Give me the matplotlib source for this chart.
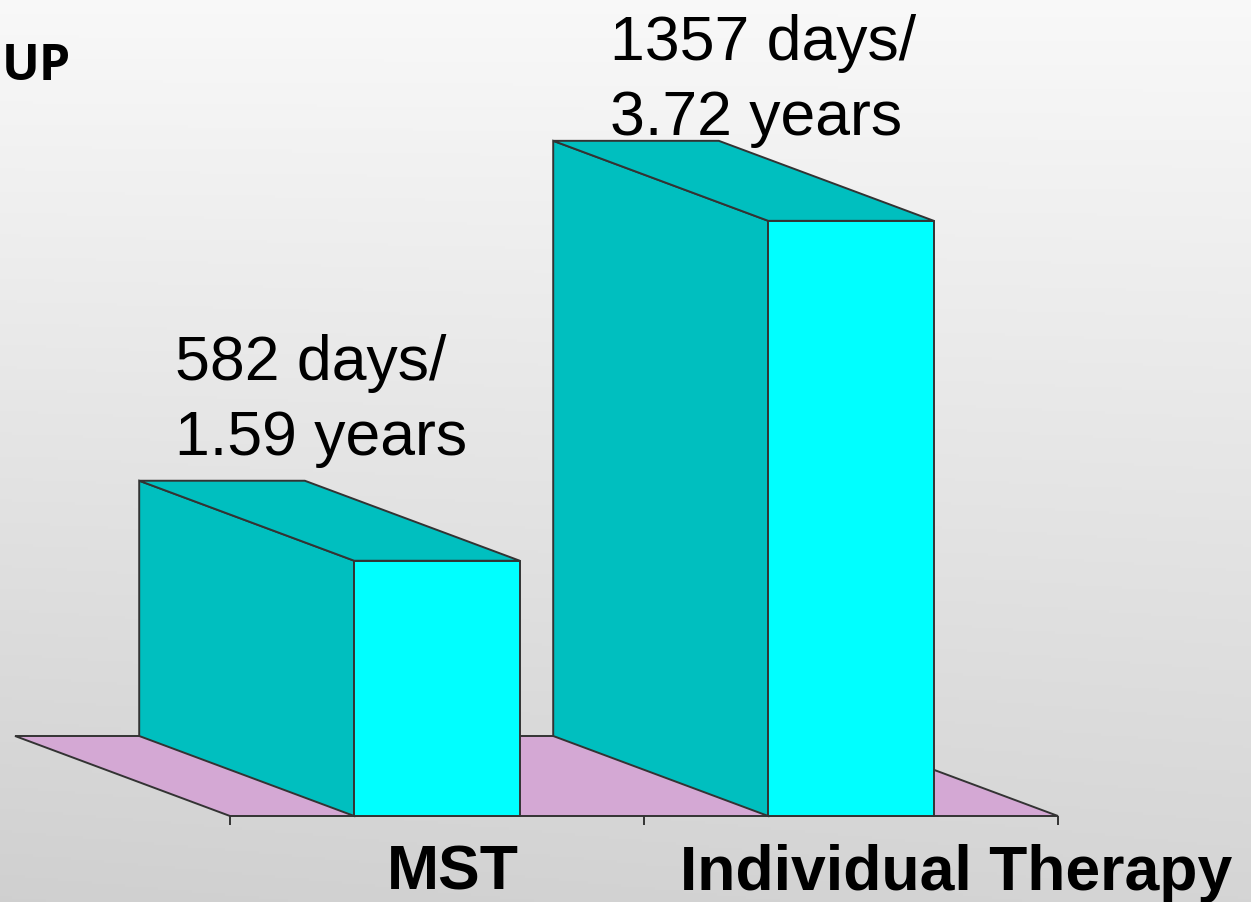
import numpy as np
import matplotlib
matplotlib.use("Agg")
import matplotlib.pyplot as plt
from matplotlib.patches import Polygon

# ---- data ----
categories = ["MST", "Individual Therapy"]
days = [582, 1357]
years = [1.59, 3.72]
title_fragment = "UP"

# ---- style / layout ----
W, H, DPI = 1251, 903, 100
side_color = "#00BFBF"
front_color = "#00FFFF"
floor_color = "#D4A8D4"
edge_color = "#333333"
lw = 1.4
bar_width = 0.4
depth_dx = -0.5193   # depth offset in category units
depth_dy = 182.4     # depth offset in value units
label_offsets_px = [(36, 102), (57, 82)]   # from back-top-left corner to first-line baseline
line_gap_px = 75
cat_label_shift = [0.039, 0.254]

fig = plt.figure(figsize=(W / DPI, H / DPI), dpi=DPI)

# background gradient
bg = fig.add_axes([0, 0, 1, 1])
yy, xx = np.mgrid[0:1:300j, 0:1:300j]
g = 0.975 - 0.14 * yy - 0.02 * (1 - xx) * yy
img = np.dstack([g, g, g])
bg.imshow(img, extent=[0, 1, 0, 1], aspect="auto", origin="upper")
bg.axis("off")

# main axes: front plane
left_px, right_px, base_px = 230, 1058, 817
scale = 2.28  # value units per pixel
top_px = 1
ax = fig.add_axes([left_px / W, (H - base_px) / H, (right_px - left_px) / W, (base_px - top_px) / H])
ax.set_xlim(0, len(categories))
ax.set_ylim(0, (base_px - top_px) * scale)
ax.patch.set_alpha(0)
for s in ax.spines.values():
    s.set_visible(False)
ax.set_yticks([])
ax.set_xticks(range(len(categories) + 1))
ax.set_xticklabels([])
ax.tick_params(axis="x", direction="out", length=6.5, width=lw, color=edge_color)

n = len(categories)
# floor
floor = Polygon([(0, 0), (n, 0), (n + depth_dx, depth_dy), (depth_dx, depth_dy)],
                closed=True, facecolor=floor_color, edgecolor=edge_color, linewidth=lw,
                zorder=1, clip_on=False)
ax.add_patch(floor)

for i, v in enumerate(days):
    c = i + 0.5
    x0, x1 = c - bar_width / 2, c + bar_width / 2
    side = Polygon([(x0, 0), (x0, v), (x0 + depth_dx, v + depth_dy), (x0 + depth_dx, depth_dy)],
                   closed=True, facecolor=side_color, edgecolor=edge_color, linewidth=lw,
                   zorder=2, clip_on=False)
    top = Polygon([(x0, v), (x1, v), (x1 + depth_dx, v + depth_dy), (x0 + depth_dx, v + depth_dy)],
                  closed=True, facecolor=side_color, edgecolor=edge_color, linewidth=lw,
                  zorder=2, clip_on=False)
    front = Polygon([(x0, 0), (x1, 0), (x1, v), (x0, v)],
                    closed=True, facecolor=front_color, edgecolor=edge_color, linewidth=lw,
                    zorder=3, clip_on=False)
    for p in (side, top, front):
        ax.add_patch(p)
    dx, dy = label_offsets_px[i]
    lines = [f"{v} days/", f"{years[i]:.2f} years"]
    for k, t in enumerate(lines):
        ax.annotate(t, xy=(x0 + depth_dx, v + depth_dy), xytext=(dx, dy - k * line_gap_px),
                    textcoords="offset pixels", ha="left", va="baseline",
                    fontsize=45, family="Liberation Sans", color="black",
                    annotation_clip=False, zorder=5)

# category labels
for i, name in enumerate(categories):
    ax.text(i + 0.5 + cat_label_shift[i], -(890 - base_px) * scale, name,
            ha="center", va="baseline", fontsize=45, fontweight="bold",
            family="Liberation Sans", color="black", clip_on=False)

# title fragment
fig.text(2 / W, 1 - 80 / H, title_fragment, ha="left", va="baseline",
         fontsize=36, fontweight="bold", family="Open Sans", color="black")

fig.savefig("out.png", dpi=DPI)
